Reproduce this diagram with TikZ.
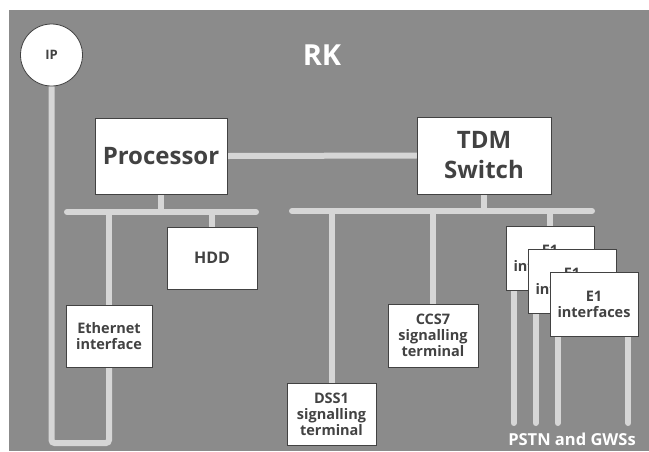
\documentclass[tikz,border=0pt]{standalone}
\usepackage{fontspec}
\setmainfont{Open Sans}
\definecolor{rkback}{gray}{0.545}
\definecolor{rkline}{gray}{0.84}
\definecolor{rktext}{gray}{0.26}
\pgfdeclarelayer{bg}
\pgfdeclarelayer{wires}
\pgfsetlayers{bg,wires,main}
\tikzset{
  unit/.style={draw=rktext, line width=0.8pt, fill=white, text=rktext,
    font=\bfseries\fontsize{14.5}{16}\selectfont, align=center, inner sep=2pt},
  bigunit/.style={unit, font=\bfseries\fontsize{24}{30}\selectfont},
  bus/.style={rkline, line width=6pt, line cap=round, rounded corners=3pt},
  label/.style={text=white, font=\bfseries\fontsize{#1}{#1}\selectfont},
}

\begin{document}
\begin{tikzpicture}[x=1pt,y=-1pt]
        \useasboundingbox (0,0) rectangle (649,451);
        \begin{pgfonlayer}{bg}
          \fill[rkback] (9,10) rectangle (649,451);
        \end{pgfonlayer}

        \node[label=29] (rk) at (322,55) {RK};
        \node[unit, circle, minimum size=62pt, inner sep=0pt,
          font=\bfseries\fontsize{13}{14}\selectfont] (ip) at (51.5,55) {IP};
        \node[bigunit, minimum width=132pt, minimum height=76pt] (proc) at (161,156) {Processor};
        \node[bigunit, minimum width=134pt, minimum height=77pt] (tdm) at (484,155.5) {TDM\\Switch};
        \node[unit, minimum width=90pt, minimum height=62pt,
          font=\bfseries\fontsize{16}{18}\selectfont] (hdd) at (212,258) {HDD};
        \node[unit, minimum width=86pt, minimum height=62pt] (eth) at (109,336) {Ethernet\\interface};
        \node[unit, minimum width=89pt, minimum height=62pt] (dss) at (331.5,414) {DSS1\\signalling\\terminal};
        \node[unit, minimum width=90pt, minimum height=63pt] (ccs) at (433,335.5) {CCS7\\signalling\\terminal};
        \node[unit, minimum width=88pt, minimum height=64pt] (e1a) at (550,258) {E1\\interfaces};
        \node[unit, minimum width=88pt, minimum height=64pt] (e1b) at (572,281) {E1\\interfaces};
        \node[unit, minimum width=88pt, minimum height=64pt] (e1c) at (594,304) {E1\\interfaces};
        \node[label=16.5] (pstn) at (572,439) {PSTN and GWSs};

        \coordinate (pbusL) at (67,212);
        \coordinate (pbusR) at (256,212);
        \coordinate (tbusL) at (292,211);
        \coordinate (tbusR) at (592,211);
        \coordinate (loop) at (0,443);
        \coordinate (lineend) at (0,423);

        \begin{pgfonlayer}{wires}
          \draw[bus] (pbusL) -- (pbusR);
          \draw[bus] (proc.south) -- (proc.south |- pbusL);
          \draw[bus] (hdd.north) -- (hdd.north |- pbusL);
          \draw[bus] (eth.north) -- (eth.north |- pbusL);
          \draw[bus] (ip.south) -- (ip.south |- loop) -- (eth.south |- loop) -- (eth.south);
          \draw[bus] (proc.east) -- (tdm.west);
          \draw[bus] (tbusL) -- (tbusR);
          \draw[bus] (tdm.south) -- (tdm.south |- tbusL);
          \draw[bus] (dss.north) -- (dss.north |- tbusL);
          \draw[bus] (ccs.north) -- (ccs.north |- tbusL);
          \draw[bus] (e1a.north) -- (e1a.north |- tbusL);
          \draw[bus] ([xshift=8pt]e1a.south west) -- ([xshift=8pt]e1a.south west |- lineend);
          \draw[bus] ([xshift=8pt]e1b.south west) -- ([xshift=8pt]e1b.south west |- lineend);
          \draw[bus] ([xshift=8pt]e1c.south west) -- ([xshift=8pt]e1c.south west |- lineend);
          \draw[bus] ([xshift=-10pt]e1c.south east) -- ([xshift=-10pt]e1c.south east |- lineend);
        \end{pgfonlayer}
\end{tikzpicture}
\end{document}
